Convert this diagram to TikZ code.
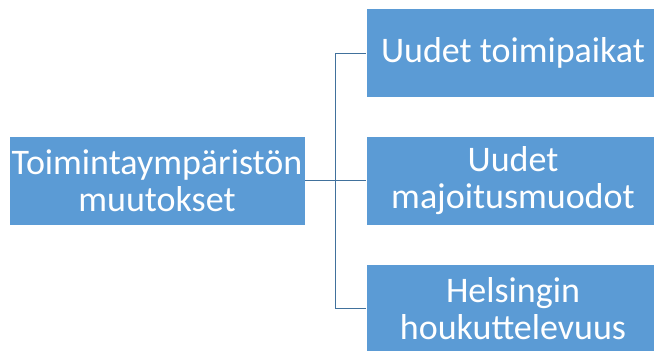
\documentclass[tikz,border=0pt]{standalone}
\usepackage{fontspec}
\setmainfont{Carlito}
\usepackage{tikz}

\definecolor{boxblue}{HTML}{5B9BD5}
\definecolor{linkblue}{HTML}{41719C}

\begin{document}
\begin{tikzpicture}[x=1pt,y=1pt,
    box/.style={draw=white, line width=0.6pt, fill=boxblue, text=white,
      minimum height=89pt, inner sep=2pt, align=center,
      font=\fontsize{36}{37}\selectfont},
    link/.style={draw=linkblue, line width=0.8pt}]
  % Kehys
  \clip (0,0) rectangle (654,351);
  \useasboundingbox (0,0) rectangle (654,351);
  % Vasen laatikko
  \node[box, minimum width=296pt] (muutos) at (157,170.5)
    {Toimintaympäristön\\muutokset};
  % Oikeat laatikot
  \node[box, minimum width=294pt] (toimi) at (513,298) {Uudet toimipaikat};
  \node[box, minimum width=294pt] (majoitus) at (513,170.5)
    {Uudet\\majoitusmuodot};
  \node[box, minimum width=294pt] (helsinki) at (513,42.5)
    {Helsingin\\houkuttelevuus};
  % Yhdysviivat
  \coordinate (haara) at (335,170.5);
  \draw[link] (muutos.east) -- (haara);
  \draw[link] (haara) |- (toimi.west);
  \draw[link] (haara) -- (majoitus.west);
  \draw[link] (haara) |- (helsinki.west);
\end{tikzpicture}
\end{document}
